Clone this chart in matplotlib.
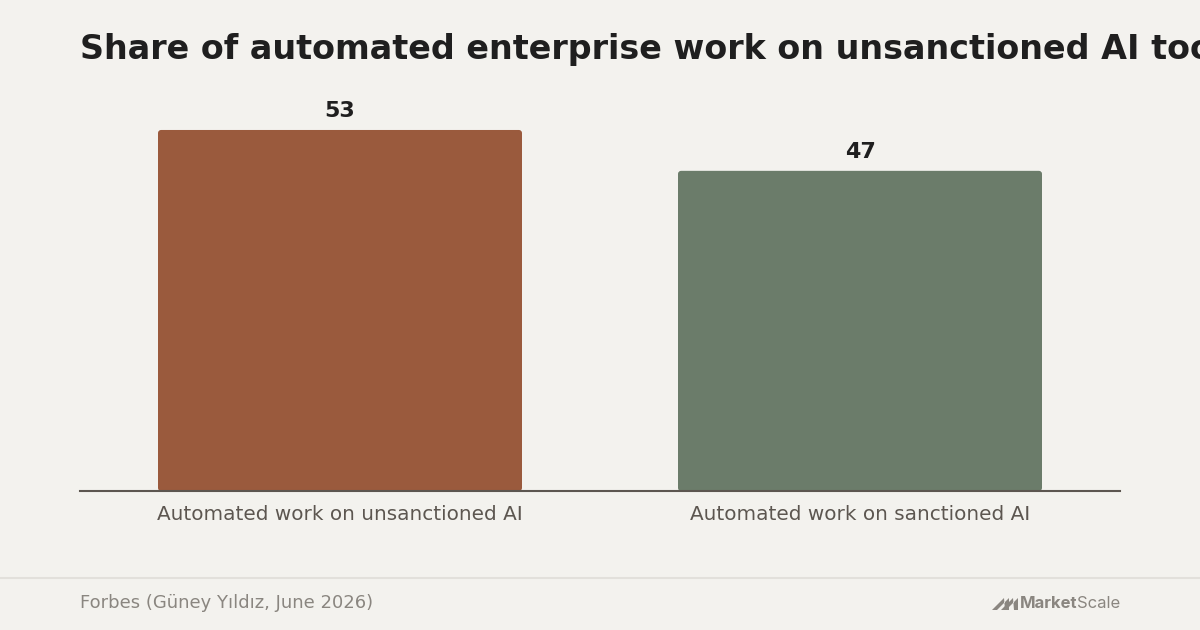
import matplotlib.pyplot as plt
from matplotlib.patches import FancyBboxPatch, Polygon

categories = ["Automated work on unsanctioned AI", "Automated work on sanctioned AI"]
values = [53, 47]
bar_colors = ["#9a5a3d", "#6b7c6a"]

title = "Share of automated enterprise work on unsanctioned AI tools"
source = "Forbes (Güney Yıldız, June 2026)"

bg = "#f3f2ee"

fig = plt.figure(figsize=(12, 6.3), dpi=100)
fig.patch.set_facecolor(bg)

# axes placed in pixel terms: x 80..1120, baseline at y=491 from top
ax = fig.add_axes([80 / 1200, (630 - 491) / 630, 1040 / 1200, (491 - 100) / 630])
ax.set_facecolor(bg)
ax.set_xlim(-0.5, 1.5)
ax.set_ylim(0, 57.4)

width = 0.7
for i, (v, c) in enumerate(zip(values, bar_colors)):
    # rounded bar corners
    p = FancyBboxPatch((i - width / 2, 0), width, v,
                       boxstyle="round,pad=0,rounding_size=0.006",
                       mutation_aspect=76,
                       facecolor=c, edgecolor="none")
    ax.add_patch(p)
    ax.text(i, v + 1.3, str(v), ha="center", va="bottom",
            fontsize=16, fontweight="bold", color="#1f1f1f")

for s in ["top", "right", "left"]:
    ax.spines[s].set_visible(False)
ax.spines["bottom"].set_color("#5c5650")
ax.spines["bottom"].set_linewidth(1.5)
ax.set_yticks([])
ax.set_xticks(range(len(categories)))
ax.set_xticklabels(categories, fontsize=14.4, color="#5c5650")
ax.tick_params(axis="x", length=0, pad=10)

# title runs off the right edge as in the original
fig.text(80 / 1200, 1 - 49 / 630, title, fontsize=24, fontweight="bold",
         color="#1f1f1f", ha="left", va="center")

# footer separator
fig.add_artist(plt.Line2D([0, 1], [1 - 578 / 630] * 2, color="#e2e0db", lw=1.5))
fig.text(80 / 1200, 1 - 603 / 630, source, fontsize=13, color="#8a8680",
         ha="left", va="center")

# MarketScale logo
logo_y = 1 - 604 / 630
fig.text(1120 / 1200, logo_y, "Scale", fontsize=12, color="#8a8680",
         ha="right", va="center", family="Inter")
fig.text(1077 / 1200, logo_y, "Market", fontsize=12, color="#8a8680",
         fontweight="bold", ha="right", va="center", family="Inter")
y_lo, y_hi = 1 - 610 / 630, 1 - 598 / 630
for dx in [0, 9]:
    x0 = (992 + dx) / 1200
    poly = Polygon([(x0, y_lo), (x0 + 5 / 1200, y_lo),
                    (x0 + 17 / 1200, y_hi), (x0 + 17 / 1200, y_lo),
                    (x0 + 13 / 1200, y_lo), (x0 + 12 / 1200, y_hi)],
                   closed=True, transform=fig.transFigure, facecolor="#8a8680",
                   edgecolor="none")
    fig.add_artist(poly)

fig.savefig("out.png", dpi=100, facecolor=bg)
